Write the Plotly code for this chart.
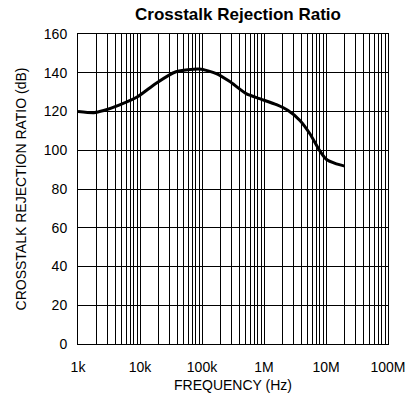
import plotly.graph_objects as go

freq_hz = [1e3, 1.8e3, 2.6e3, 4.6e3, 9.1e3, 18e3, 38e3, 91e3, 170e3, 277e3, 515e3, 850e3,
           1.59e6, 2.45e6, 3.8e6, 5.5e6, 7.9e6, 10e6, 14e6, 20e6]
crr_db = [120, 119.4, 120.5, 123.3, 127.6, 134.5, 140.5, 141.9, 139.6, 135.6, 129.2, 126.6,
          123.5, 120.5, 115.4, 108.5, 99.8, 95.5, 93.2, 91.8]
x_tickvals = [1e3, 1e4, 1e5, 1e6, 1e7, 1e8]
x_ticktext = ["1k", "10k", "100k", "1M", "10M", "100M"]
y_tickvals = [0, 20, 40, 60, 80, 100, 120, 140, 160]

minor_vals = [m * 10 ** e for e in range(3, 8) for m in range(2, 10)]

fig = go.Figure()
fig.add_trace(go.Scatter(x=freq_hz, y=crr_db, mode="lines",
                         line=dict(color="black", width=3, shape="spline", smoothing=0.6),
                         showlegend=False, hoverinfo="skip"))

font = "Liberation Sans, Arial, sans-serif"
W, H = 408, 403
fig.update_layout(
    width=W, height=H,
    margin=dict(l=78, r=20, t=34, b=59),
    paper_bgcolor="white", plot_bgcolor="white",
    font=dict(family=font, size=14, color="black"),
    title=dict(text="<b>Crosstalk Rejection Ratio</b>", x=238 / W, xanchor="center",
               y=1 - 14 / H, yanchor="middle", font=dict(size=17, family=font, color="black")),
    xaxis=dict(type="log", range=[3, 8], tickvals=x_tickvals, ticktext=x_ticktext,
               showgrid=True, gridcolor="black", gridwidth=1,
               minor=dict(tickvals=minor_vals, showgrid=True, gridcolor="black", gridwidth=1,
                          ticks=""),
               showline=True, linecolor="black", linewidth=1, mirror=True,
               ticks="", zeroline=False, automargin=False, ticklabelstandoff=10,
               title=dict(text="FREQUENCY (Hz)", standoff=6, font=dict(size=14)),
               tickfont=dict(size=14)),
    yaxis=dict(range=[0, 160], tickvals=y_tickvals,
               showgrid=True, gridcolor="black", gridwidth=1,
               showline=True, linecolor="black", linewidth=1, mirror=True,
               ticks="", zeroline=False, automargin=False, ticklabelstandoff=7,
               title=dict(text="CROSSTALK REJECTION RATIO (dB)", standoff=13, font=dict(size=14)),
               tickfont=dict(size=14)),
)

fig.write_html("out.html", config={"displayModeBar": False},
               post_script="document.body.style.margin='0';document.body.style.overflow='hidden';")
